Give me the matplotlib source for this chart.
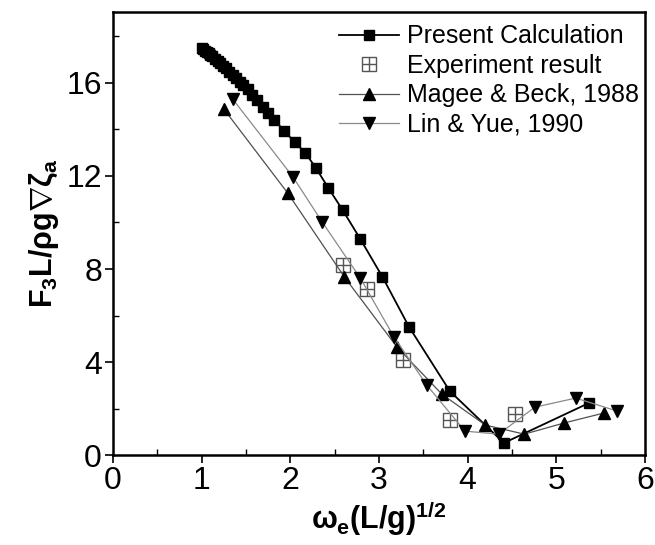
import matplotlib
matplotlib.use("Agg")
import matplotlib.pyplot as plt
from matplotlib.legend_handler import HandlerTuple

# Present calculation
calc_x = [1.00, 1.02, 1.04, 1.06, 1.08, 1.10, 1.12, 1.15, 1.18, 1.21, 1.24, 1.27,
          1.31, 1.35, 1.39, 1.43, 1.47, 1.52, 1.57, 1.63, 1.69, 1.75, 1.82, 1.93,
          2.05, 2.17, 2.29, 2.43, 2.59, 2.79, 3.04, 3.34, 3.80, 4.41, 5.37]
calc_y = [17.50, 17.45, 17.39, 17.33, 17.27, 17.20, 17.14, 17.04, 16.94, 16.84,
          16.74, 16.63, 16.49, 16.35, 16.20, 16.06, 15.92, 15.72, 15.50, 15.25,
          14.98, 14.72, 14.42, 13.94, 13.46, 12.99, 12.34, 11.48, 10.54, 9.29,
          7.66, 5.51, 2.75, 0.52, 2.24]

# Experiment result
exp_x = [2.59, 2.87, 3.27, 3.80, 4.54]
exp_y = [8.17, 7.13, 4.09, 1.51, 1.76]

# Magee & Beck, 1988
magee_x = [1.25, 1.97, 2.61, 3.20, 3.71, 4.20, 4.64, 5.09, 5.54]
magee_y = [14.88, 11.27, 7.66, 4.66, 2.62, 1.29, 0.90, 1.38, 1.81]

# Lin & Yue, 1990
lin_x = [1.35, 2.03, 2.36, 2.79, 3.17, 3.54, 3.97, 4.35, 4.76, 5.22, 5.69]
lin_y = [15.31, 11.96, 10.02, 7.61, 5.08, 3.01, 1.03, 0.90, 2.06, 2.45, 1.89]

plt.rcParams['font.family'] = ['Liberation Sans', 'DejaVu Sans']
plt.rcParams['mathtext.fontset'] = 'custom'
plt.rcParams['mathtext.rm'] = 'Liberation Sans:bold'
plt.rcParams['mathtext.bf'] = 'Liberation Sans:bold'
plt.rcParams['mathtext.it'] = 'Liberation Sans:bold'
plt.rcParams['mathtext.sf'] = 'Liberation Sans:bold'

fig = plt.figure(figsize=(6.55, 5.45), dpi=100)
ax = fig.add_axes([0.1725, 0.165, 0.812, 0.813])

h1, = ax.plot(calc_x, calc_y, color='black', lw=1.3, marker='s', ms=7, mfc='black', mec='black')
e1, = ax.plot(exp_x, exp_y, ls='none', marker='s', ms=10, mfc='white', mec='#555555', mew=1.0)
e2, = ax.plot(exp_x, exp_y, ls='none', marker='+', ms=10, mec='#555555', mew=1.0)
h3, = ax.plot(magee_x, magee_y, color='#505050', lw=0.9, marker='^', ms=8, mfc='black', mec='black')
h4, = ax.plot(lin_x, lin_y, color='#8a8a8a', lw=0.9, marker='v', ms=8, mfc='black', mec='black')

ax.set_xlim(0, 6)
ax.set_ylim(0, 19.05)
ax.set_xticks([0, 1, 2, 3, 4, 5, 6])
ax.set_yticks([0, 4, 8, 12, 16])
ax.set_xticks([0.5, 1.5, 2.5, 3.5, 4.5, 5.5], minor=True)
ax.set_yticks([2, 6, 10, 14, 18], minor=True)
ax.tick_params(which='major', direction='out', length=6, width=1.2, labelsize=23, pad=2)
ax.tick_params(which='minor', direction='in', length=4, width=1.0)
for s in ax.spines.values():
    s.set_linewidth(1.8)

ax.set_xlabel(r'$\omega_e$(L/g)$^{1/2}$', fontsize=22, fontweight='bold', labelpad=2)
ax.set_ylabel(r'F$_3$L/$\rho$g$\nabla\zeta_a$', fontsize=22, fontweight='bold', labelpad=4)

ax.legend([h1, (e1, e2), h3, h4],
          ['Present Calculation', 'Experiment result', 'Magee & Beck, 1988', 'Lin & Yue, 1990'],
          handler_map={tuple: HandlerTuple(ndivide=1, pad=0)},
          loc='upper right', frameon=False, fontsize=18, handlelength=2.4,
          handletextpad=0.35, labelspacing=0.22, borderaxespad=0.1,
          bbox_to_anchor=(1.013, 1.0))

fig.savefig('out.png', dpi=100)
